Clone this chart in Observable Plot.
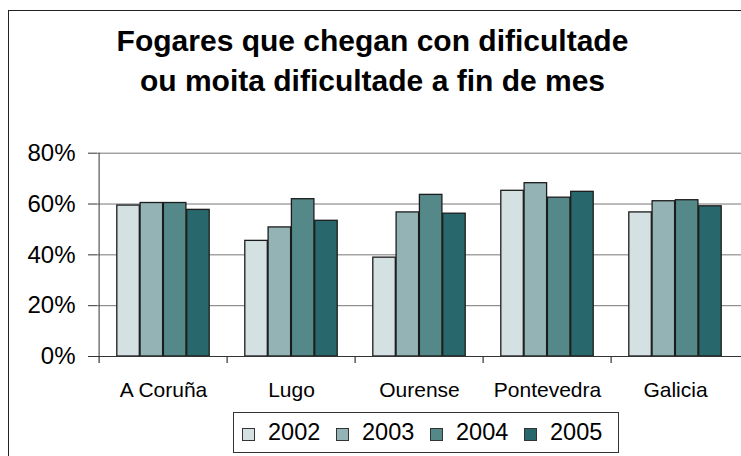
<!DOCTYPE html>
<html>
<head>
<meta charset="utf-8">
<script src="https://cdn.jsdelivr.net/npm/d3@7"></script>
<script src="https://cdn.jsdelivr.net/npm/@observablehq/plot@0.6"></script>
<style>
  html, body { margin: 0; padding: 0; background: #fff; }
  #wrap { position: relative; width: 741px; height: 456px; overflow: hidden; font-family: "Liberation Sans", Arial, sans-serif; }
  #frame { position: absolute; left: 8px; top: 10px; width: 800px; height: 500px; border: 1px solid #222; box-sizing: border-box; }
  #title { position: absolute; left: 2px; top: 21px; width: 741px; text-align: center; font-weight: bold; font-size: 30px; line-height: 40px; color: #000; }
  #chart { position: absolute; left: 0; top: 120px; }
  #legend { position: absolute; left: 233px; top: 412px; width: 386px; height: 41px; border: 1px solid #333; box-sizing: border-box; background: #fff; display: flex; align-items: center; padding-left: 8px; }
  .item { display: flex; align-items: center; width: 95px; }
  .sw { width: 13px; height: 13px; border: 1px solid #333; box-sizing: border-box; margin-right: 13px; margin-top: 3px; }
  .lbl { font-size: 23.5px; color: #000; }
</style>
</head>
<body>
<div id="wrap">
  <div id="frame"></div>
  <div id="title">Fogares que chegan con dificultade<br>ou moita dificultade a fin de mes</div>
  <div id="chart"></div>
  <div id="legend"></div>
</div>
<script>
const categories = ["A Coruña", "Lugo", "Ourense", "Pontevedra", "Galicia"];
const years = ["2002", "2003", "2004", "2005"];
const v2002 = [59.4, 45.5, 38.9, 65.2, 56.7];
const v2003 = [60.4, 50.8, 56.7, 68.2, 61.1];
const v2004 = [60.4, 61.9, 63.6, 62.5, 61.5];
const v2005 = [57.7, 53.4, 56.2, 64.8, 59.1];
const yTicks = [0, 20, 40, 60, 80];
const colors = ["#d4e1e2", "#93b3b5", "#548889", "#28686c"];

const series = [v2002, v2003, v2004, v2005];
const data = categories.flatMap((c, i) => years.map((y, j) => ({category: c, year: y, value: series[j][i]})));

const W = 741, ML = 97, MR = 0;
const step = (W - ML - MR) / categories.length;
const bw = 23.3;
const outer = (step - bw * years.length) / 2;

const barMarks = years.map((y, j) => Plot.barY(data.filter(d => d.year === y), {
  x: "category", y: "value", fill: colors[j], stroke: "#1c1c1c", strokeWidth: 1.3,
  insetLeft: outer + j * bw, insetRight: step - outer - (j + 1) * bw
}));

const chart = Plot.plot({
  width: W,
  height: 285,
  marginLeft: ML,
  marginRight: MR,
  marginTop: 32.7,
  marginBottom: 49,
  style: {fontFamily: "'Liberation Sans', Arial, sans-serif", background: "transparent", color: "#333", overflow: "visible"},
  x: {domain: categories, padding: 0, label: null},
  y: {domain: [0, 80], label: null},
  marks: [
    Plot.gridY(yTicks.slice(1), {stroke: "#777", strokeOpacity: 1}),
    ...barMarks,
    Plot.ruleY([0], {stroke: "#333"}),
    Plot.ruleX([categories[0]], {dx: -step / 2, stroke: "#333"}),
    Plot.axisY(yTicks, {label: null, tickFormat: d => d + "%", tickSize: 9, tickPadding: 13, fontSize: 24, fill: "#000", stroke: "#333"}),
    Plot.axisX({label: null, tickSize: 7, tickFormat: () => "", dx: -step / 2, stroke: "#333", strokeWidth: 1.2}),
    Plot.axisX({label: null, tickSize: 0, tickPadding: 26, fontSize: 21, fill: "#000"})
  ]
});
document.getElementById("chart").appendChild(chart);

const legend = document.getElementById("legend");
years.forEach((y, j) => {
  const item = document.createElement("div");
  item.className = "item";
  const sw = document.createElement("div");
  sw.className = "sw";
  sw.style.background = colors[j];
  const lbl = document.createElement("span");
  lbl.className = "lbl";
  lbl.textContent = y;
  item.appendChild(sw);
  item.appendChild(lbl);
  legend.appendChild(item);
});
</script>
</body>
</html>
